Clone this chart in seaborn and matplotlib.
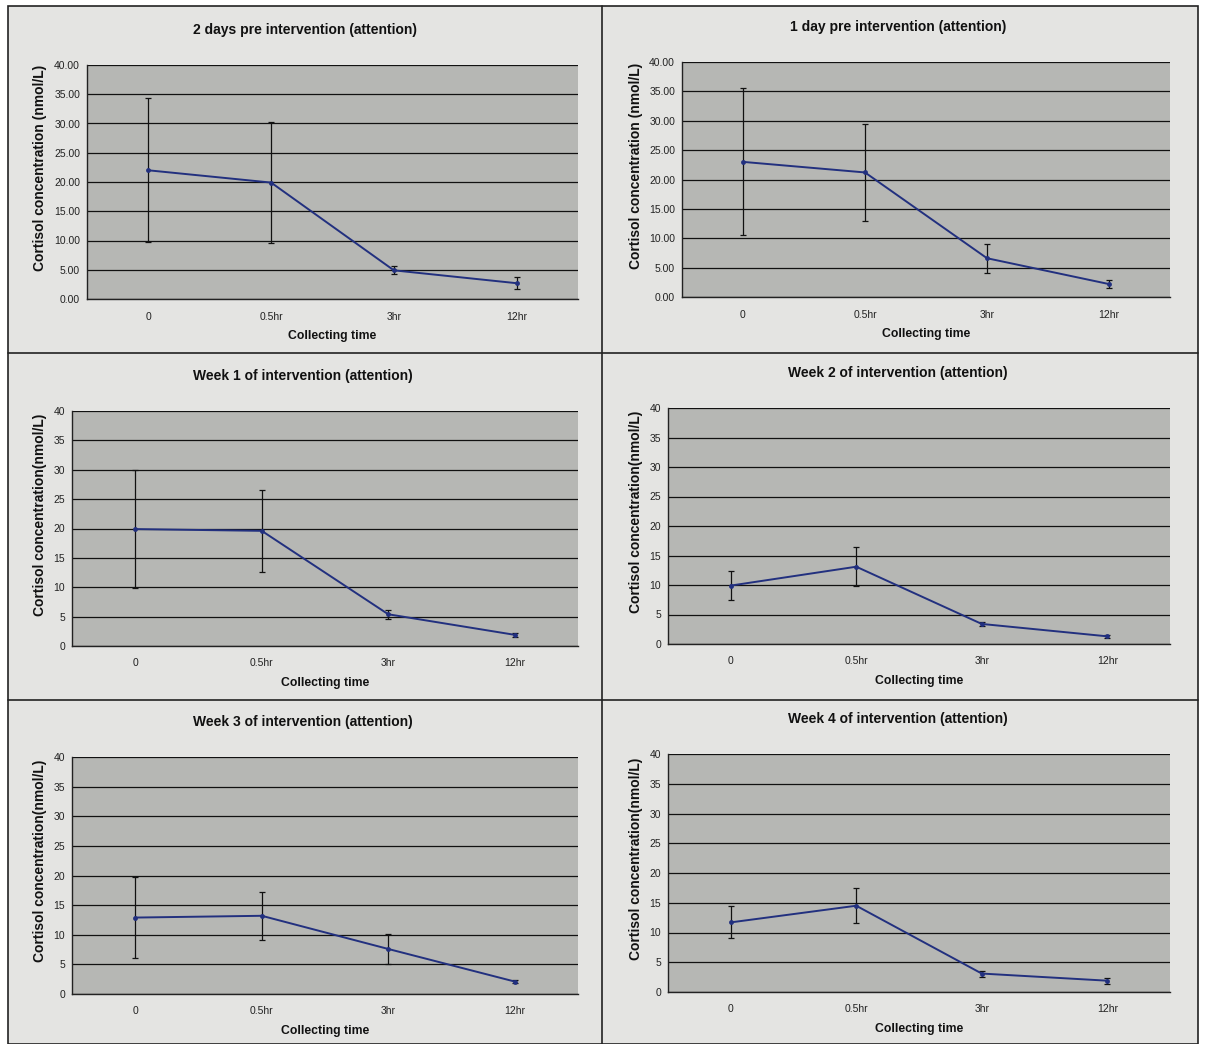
import numpy as np
import pandas as pd
import matplotlib
matplotlib.use("Agg")
import matplotlib.pyplot as plt
import seaborn as sns
from matplotlib.patches import Rectangle
from matplotlib.lines import Line2D
from matplotlib.ticker import FormatStrFormatter, FixedLocator

# Collecting times (categories)
times = ["0", "0.5hr", "3hr", "12hr"]

titles = [
    "2 days pre intervention (attention)",
    "1 day pre intervention (attention)",
    "Week 1 of intervention (attention)",
    "Week 2 of intervention (attention)",
    "Week 3 of intervention (attention)",
    "Week 4 of intervention (attention)",
]

# mean cortisol (nmol/L) per panel
mean_2d_pre = [22.0, 19.9, 4.9, 2.7]
mean_1d_pre = [23.0, 21.2, 6.6, 2.2]
mean_week1 = [19.9, 19.6, 5.4, 1.9]
mean_week2 = [9.9, 13.1, 3.4, 1.3]
mean_week3 = [12.9, 13.2, 7.6, 2.1]
mean_week4 = [11.7, 14.5, 3.1, 1.9]

# error bar half-widths
err_2d_pre = [12.3, 10.3, 0.7, 1.0]
err_1d_pre = [12.5, 8.2, 2.45, 0.7]
err_week1 = [10.0, 7.0, 0.8, 0.3]
err_week2 = [2.4, 3.3, 0.4, 0.2]
err_week3 = [6.9, 4.05, 2.5, 0.3]
err_week4 = [2.7, 2.9, 0.5, 0.5]

means = [mean_2d_pre, mean_1d_pre, mean_week1, mean_week2, mean_week3, mean_week4]
errs = [err_2d_pre, err_1d_pre, err_week1, err_week2, err_week3, err_week4]

ylabels = ["Cortisol concentration (nmol/L)"] * 2 + ["Cortisol concentration(nmol/L)"] * 4
yfmt = ["%.2f", "%.2f", "%d", "%d", "%d", "%d"]

sns.set_style("white")
plt.rcParams['font.family'] = ['Liberation Sans', 'DejaVu Sans']

W, H = 1205, 1044
fig = plt.figure(figsize=(W / 100, H / 100), dpi=100, facecolor="white")

# panel background + frame
fig.add_artist(Rectangle((8 / W, 0), (1198 - 8) / W, 1 - 6 / H, transform=fig.transFigure,
                         facecolor="#e4e4e2", edgecolor="#222222", linewidth=1.2, zorder=0))
fig.add_artist(Line2D([602 / W, 602 / W], [0, 1 - 6 / H], color="#222222", linewidth=1.2))
for yy in [353, 700]:
    fig.add_artist(Line2D([8 / W, 1198 / W], [1 - yy / H, 1 - yy / H], color="#222222", linewidth=1.2))

# plot areas in pixels (left, top, right, bottom)
boxes = [
    (87, 65, 578, 299),
    (682, 62, 1170, 297),
    (72, 411, 578, 646),
    (668, 408, 1170, 644),
    (72, 757, 578, 994),
    (668, 754, 1170, 992),
]
title_x = [305, 898, 303, 898, 303, 898]
ylab_x = [47, 643, 47, 643, 47, 643]

for i, (l, t, r, b) in enumerate(boxes):
    ax = fig.add_axes([l / W, 1 - b / H, (r - l) / W, (b - t) / H])
    ax.set_facecolor("#b6b7b4")
    xpos = np.arange(len(times)) + 0.5
    df = pd.DataFrame({"x": xpos, "y": means[i]})
    ax.errorbar(xpos, means[i], yerr=errs[i], fmt="none", ecolor="#111111",
                elinewidth=0.9, capsize=2.5, capthick=0.9, zorder=3)
    sns.lineplot(data=df, x="x", y="y", ax=ax, color="#22307f", linewidth=1.4,
                 marker="o", markersize=3.5, markeredgewidth=0, zorder=4)
    ax.set_xlim(0, 4)
    ax.set_ylim(0, 40)
    ax.set_yticks(np.arange(0, 41, 5))
    ax.yaxis.set_major_formatter(FormatStrFormatter(yfmt[i]))
    ax.grid(axis="y", color="#111111", linewidth=0.9)
    ax.set_axisbelow(True)
    ax.xaxis.set_major_locator(FixedLocator([0, 1, 2, 3, 4]))
    ax.xaxis.set_minor_locator(FixedLocator(xpos))
    ax.set_xticklabels([])
    ax.set_xticklabels(times, minor=True)
    ax.tick_params(axis="x", which="major", length=4, width=1, color="#222222", direction="out")
    ax.tick_params(axis="x", which="minor", length=0, pad=9, labelsize=7.5, labelcolor="#222222")
    ax.tick_params(axis="y", length=3, width=1, color="#222222", direction="out", labelsize=7.5,
                   labelcolor="#222222", pad=2)
    for s in ["top", "right"]:
        ax.spines[s].set_visible(False)
    for s in ["left", "bottom"]:
        ax.spines[s].set_color("#222222")
        ax.spines[s].set_linewidth(1.0)
    ax.set_xlabel("Collecting time", fontsize=8.8, fontweight="bold", labelpad=6, color="#111111")
    ax.set_ylabel(ylabels[i], fontsize=10, fontweight="bold", color="#111111")
    ax.yaxis.set_label_coords((ylab_x[i] - l) / (r - l), 0.56)
    ty = t - 35
    fig.text(title_x[i] / W, 1 - ty / H, titles[i], ha="center", va="center",
             fontsize=10, fontweight="bold", color="#111111")

fig.savefig("out.png", dpi=100, facecolor="white")
